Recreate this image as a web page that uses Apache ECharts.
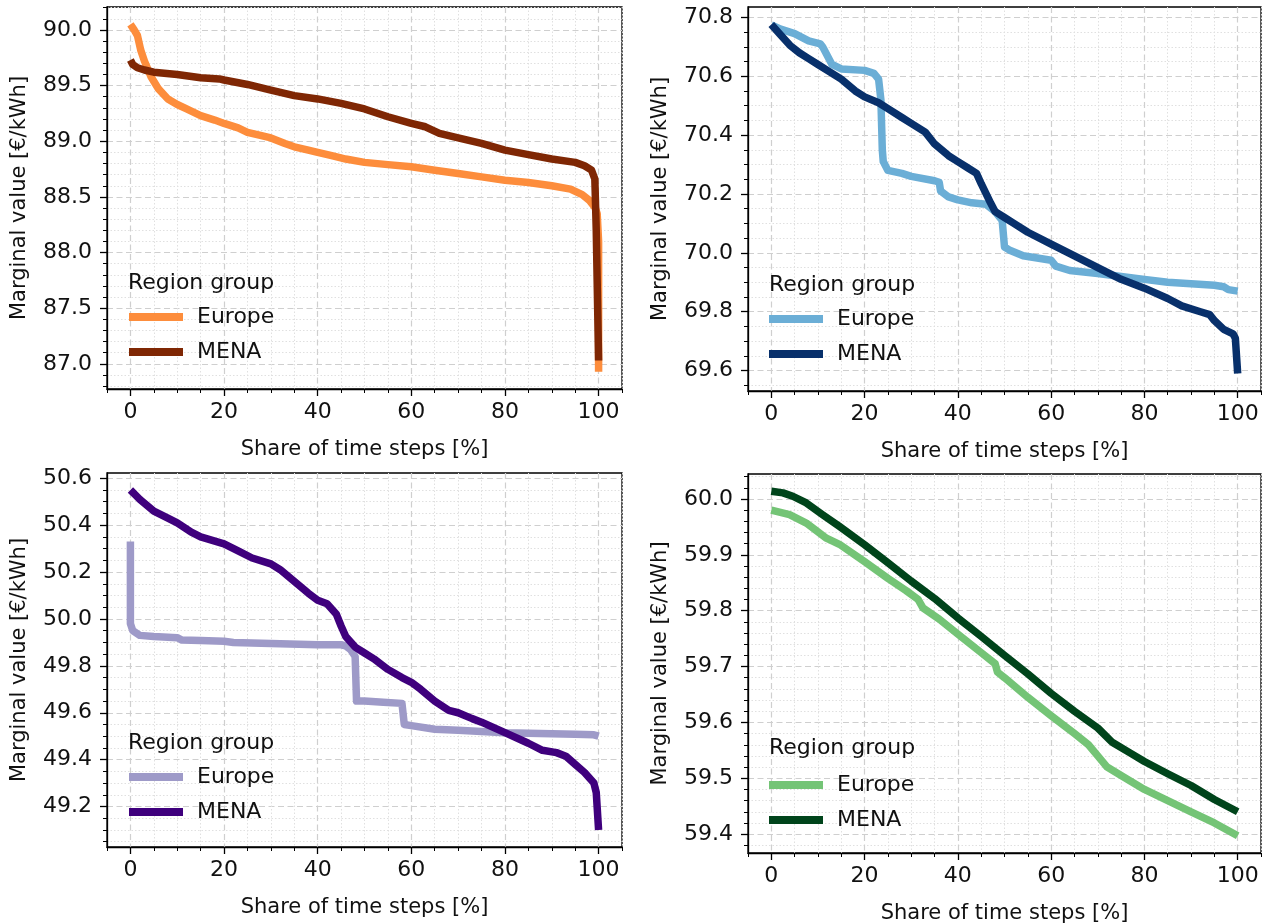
<!DOCTYPE html>
<html><head><meta charset="utf-8">
<script src="https://cdn.jsdelivr.net/npm/echarts@6/dist/echarts.min.js"></script>
<style>html,body{margin:0;padding:0;background:#fff}#c{width:1266px;height:924px}</style>
</head><body><div id="c"></div><script>
// ---------- data ----------
const xTicks = [0, 20, 40, 60, 80, 100];

// Panel A (top-left)
const shareEuropeA = [0,0.8,1.5,2.2,3,4.4,6,8,10,12,15,18,20,23,25,28,30,33,35,38,40,43,46,50,55,60,65,70,75,80,85,90,94,96.5,98,99.3,99.7,100,100];
const valueEuropeA = [90.05,90.00,89.95,89.82,89.72,89.58,89.47,89.38,89.33,89.29,89.23,89.19,89.16,89.12,89.08,89.05,89.03,88.98,88.95,88.92,88.90,88.87,88.84,88.81,88.79,88.77,88.74,88.71,88.68,88.65,88.63,88.60,88.57,88.52,88.47,88.40,88.35,88.1,86.93];
const shareMenaA = [0,0.5,1.5,3,5,10,15,19,20,25,30,35,40,45,50,55,60,63,66,70,75,80,85,90,95,97,98.5,99.2,99.5,99.8,100];
const valueMenaA = [89.73,89.69,89.66,89.64,89.62,89.60,89.57,89.56,89.55,89.51,89.46,89.41,89.38,89.34,89.29,89.22,89.16,89.13,89.07,89.03,88.98,88.92,88.88,88.84,88.81,88.78,88.74,88.66,88.2,87.5,87.03];
const yTicksA = [87.0,87.5,88.0,88.5,89.0,89.5,90.0];

// Panel B (top-right)
const shareEuropeB = [0,2,5,8,10.5,11,13,15,20,22,23,23.5,23.8,24,25,28,30,35,36,36.3,38,40,43,46,48,49.5,50,51,54,58,60,61,64,70,75,80,85,90,95,97,98,100];
const valueEuropeB = [70.774,70.76,70.745,70.72,70.71,70.70,70.64,70.625,70.62,70.61,70.59,70.52,70.35,70.31,70.28,70.27,70.26,70.245,70.24,70.21,70.19,70.18,70.17,70.165,70.14,70.11,70.02,70.01,69.99,69.98,69.975,69.955,69.94,69.93,69.92,69.91,69.90,69.895,69.89,69.885,69.875,69.87];
const shareMenaB = [0,2,4,6,8,10,12,15,18,20,23,25,28,30,33,35,38,40,42,44,45,47,48,50,52,55,60,65,70,75,80,85,88,92,94,95,97,99,99.5,100];
const valueMenaB = [70.776,70.74,70.705,70.68,70.66,70.64,70.62,70.59,70.55,70.53,70.51,70.49,70.46,70.44,70.41,70.37,70.33,70.31,70.29,70.27,70.235,70.17,70.14,70.12,70.10,70.07,70.03,69.99,69.95,69.91,69.88,69.845,69.82,69.80,69.79,69.77,69.74,69.725,69.71,69.59];
const yTicksB = [69.6,69.8,70.0,70.2,70.4,70.6,70.8];

// Panel C (bottom-left)
const shareEuropeC = [0,0,0.5,2,5,10,11,15,20,22,30,40,45,46,47,48,48.3,50,54,58,58.5,60,65,70,75,80,90,95,99,100];
const valueEuropeC = [50.33,49.98,49.95,49.93,49.925,49.92,49.91,49.908,49.905,49.90,49.895,49.89,49.89,49.885,49.87,49.84,49.65,49.65,49.645,49.64,49.55,49.545,49.53,49.525,49.52,49.515,49.51,49.508,49.506,49.50];
const shareMenaC = [0,1,2,5,8,10,13,15,20,23,26,30,32,35,38,40,42,44,45,46,48,50,52,55,58,60,62,65,68,70,73,75,80,85,88,91,93,95,97,99,99.5,100];
const valueMenaC = [50.55,50.53,50.51,50.46,50.43,50.41,50.37,50.35,50.32,50.29,50.26,50.235,50.21,50.16,50.11,50.08,50.065,50.02,49.97,49.925,49.88,49.855,49.83,49.785,49.75,49.73,49.70,49.65,49.61,49.60,49.575,49.56,49.515,49.47,49.44,49.43,49.415,49.38,49.345,49.30,49.26,49.10];
const yTicksC = [49.2,49.4,49.6,49.8,50.0,50.2,50.4,50.6];

// Panel D (bottom-right)
const shareEuropeD = [0,3.9,7.5,11.8,14.6,20,25,28.9,31.5,32.5,36,40,45,48,48.5,50,55,60,65,68,70,72,75,80,85,90,95,100];
const valueEuropeD = [59.98,59.972,59.957,59.93,59.919,59.888,59.858,59.836,59.82,59.805,59.785,59.758,59.725,59.705,59.69,59.68,59.645,59.612,59.58,59.56,59.54,59.52,59.505,59.48,59.46,59.44,59.42,59.397];
const shareMenaD = [0,2.5,4.6,7.5,11,14.6,20,25,30,35,40,45,50,55,60,65,70,73,77,80,85,90,95,100];
const valueMenaD = [60.014,60.011,60.005,59.993,59.972,59.951,59.918,59.886,59.853,59.822,59.787,59.754,59.72,59.687,59.652,59.62,59.59,59.565,59.545,59.53,59.508,59.487,59.462,59.44];
const yTicksD = [59.4,59.5,59.6,59.7,59.8,59.9,60.0];

const seriesNames = ['Europe', 'MENA'];
const legendTitle = 'Region group';
const xTitle = 'Share of time steps [%]';
const yTitle = 'Marginal value [€/kWh]';

// ---------- layout / style ----------
const FONT = 'DejaVu Sans';
const TXT = '#111111';
const panels = [
  { key:'A', grid:{left:107, top:7, width:515, height:382}, yTicks:yTicksA, yMinor:0.1,
    legendLeft:124, legendTop:300, titleLeft:128, titleTop:272,
    lines:[{x:shareEuropeA, y:valueEuropeA, color:'#fd8d3c'}, {x:shareMenaA, y:valueMenaA, color:'#7f2704'}] },
  { key:'B', grid:{left:748, top:7, width:513, height:384}, yTicks:yTicksB, yMinor:0.05,
    legendLeft:764, legendTop:302, titleLeft:769, titleTop:274,
    lines:[{x:shareEuropeB, y:valueEuropeB, color:'#6baed6'}, {x:shareMenaB, y:valueMenaB, color:'#08306b'}] },
  { key:'C', grid:{left:107, top:473, width:515, height:374}, yTicks:yTicksC, yMinor:0.05,
    legendLeft:124, legendTop:760, titleLeft:128, titleTop:732,
    lines:[{x:shareEuropeC, y:valueEuropeC, color:'#9e9ac8'}, {x:shareMenaC, y:valueMenaC, color:'#3f007d'}] },
  { key:'D', grid:{left:748, top:474, width:513, height:379}, yTicks:yTicksD, yMinor:0.02,
    legendLeft:764, legendTop:768, titleLeft:769, titleTop:737,
    lines:[{x:shareEuropeD, y:valueEuropeD, color:'#74c476'}, {x:shareMenaD, y:valueMenaD, color:'#00441b'}] }
];

function paddedExtent(arrs){
  let lo = Infinity, hi = -Infinity;
  arrs.forEach(a => a.forEach(v => { if (v < lo) lo = v; if (v > hi) hi = v; }));
  const m = (hi - lo) * 0.05;
  return [lo - m, hi + m];
}
function minorValues(lo, hi, step, majors){
  const out = [];
  const s = Math.ceil(lo / step - 1e-9), e = Math.floor(hi / step + 1e-9);
  for (let k = s; k <= e; k++) {
    const v = +(k * step).toFixed(6);
    if (!majors.some(m => Math.abs(m - v) < 1e-9)) out.push(v);
  }
  return out;
}

const option = { animation:false, backgroundColor:'#ffffff', grid:[], xAxis:[], yAxis:[], series:[], legend:[], title:[] };
const minorSplit = { show:true, lineStyle:{ color:'#e0e0e0', width:1, type:[1.5,2] } };
const majorSplit = { show:true, lineStyle:{ color:'#cfcfcf', width:1.2, type:[6,3.5] } };
const blackLine = { color:'#000', width:1.3 };

panels.forEach((p, gi) => {
  option.grid.push(Object.assign({ show:true, borderColor:'#000', borderWidth:1.3, backgroundColor:'transparent', containLabel:false, outerBoundsMode:'none' }, p.grid));
  const xr = paddedExtent(p.lines.map(l => l.x));
  const yr = paddedExtent(p.lines.map(l => l.y));
  // minor x
  option.xAxis.push({ type:'value', gridIndex:gi, position:'bottom', min:xr[0], max:xr[1],
    axisLine:{show:false, onZero:false}, axisLabel:{show:false},
    axisTick:{show:true, length:4, lineStyle:{color:'#000', width:1}, customValues:minorValues(xr[0], xr[1], 5, xTicks)},
    splitLine:minorSplit });
  const xMajor = option.xAxis.length;
  option.xAxis.push({ type:'value', gridIndex:gi, position:'bottom', min:xr[0], max:xr[1],
    name:xTitle, nameLocation:'middle', nameGap:50, nameTextStyle:{fontFamily:FONT, fontSize:21, color:TXT},
    axisLine:{show:true, onZero:false, lineStyle:blackLine},
    axisTick:{show:true, length:7, lineStyle:blackLine, customValues:xTicks},
    axisLabel:{show:true, customValues:xTicks, margin:12, fontFamily:FONT, fontSize:22, color:TXT, formatter:v => String(Math.round(v))},
    splitLine:majorSplit });
  // minor y
  option.yAxis.push({ type:'value', gridIndex:gi, position:'left', min:yr[0], max:yr[1],
    axisLine:{show:false, onZero:false}, axisLabel:{show:false},
    axisTick:{show:true, length:4, lineStyle:{color:'#000', width:1}, customValues:minorValues(yr[0], yr[1], p.yMinor, p.yTicks)},
    splitLine:minorSplit });
  const yMajor = option.yAxis.length;
  option.yAxis.push({ type:'value', gridIndex:gi, position:'left', min:yr[0], max:yr[1],
    name:yTitle, nameLocation:'middle', nameGap:77, nameRotate:90, nameTextStyle:{fontFamily:FONT, fontSize:21, color:TXT},
    axisLine:{show:true, onZero:false, lineStyle:blackLine},
    axisTick:{show:true, length:7, lineStyle:blackLine, customValues:p.yTicks},
    axisLabel:{show:true, customValues:p.yTicks, margin:15, fontFamily:FONT, fontSize:22, color:TXT, formatter:v => v.toFixed(1)},
    splitLine:majorSplit });
  const ids = [];
  p.lines.forEach((l, k) => {
    const id = seriesNames[k] + '#' + p.key;
    ids.push(id);
    option.series.push({ type:'line', name:id, xAxisIndex:xMajor, yAxisIndex:yMajor,
      data:l.x.map((v, j) => [v, l.y[j]]), symbol:'none', showSymbol:false, smooth:false,
      lineStyle:{color:l.color, width:7.5, cap:'butt', join:'round'}, itemStyle:{color:l.color}, z:2 + k });
  });
  option.legend.push({ left:p.legendLeft, top:p.legendTop, orient:'vertical', data:ids, selectedMode:false,
    formatter:n => n.split('#')[0], icon:'rect', itemWidth:54, itemHeight:8, itemGap:11,
    textStyle:{fontFamily:FONT, fontSize:22, color:TXT, lineHeight:24, padding:[0,0,0,9]} });
  option.title.push({ text:legendTitle, left:p.titleLeft, top:p.titleTop, padding:0,
    textStyle:{fontFamily:FONT, fontSize:22, fontWeight:'normal', color:TXT} });
});

const chart = echarts.init(document.getElementById('c'), null, {renderer:'canvas'});
chart.setOption(option);
</script></body></html>
